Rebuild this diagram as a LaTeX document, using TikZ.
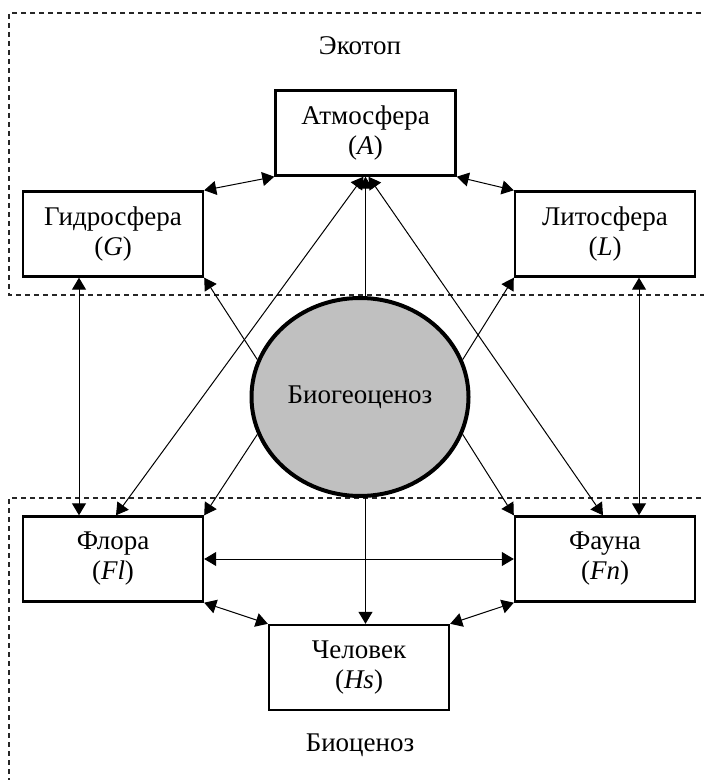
\documentclass[tikz,border=0pt]{standalone}
\usepackage{fontspec}
\setmainfont{Liberation Serif}
\usetikzlibrary{arrows.meta, shapes.geometric, calc}
\definecolor{biogray}{RGB}{192, 192, 192}
\tikzset{
  block/.style={
    draw,
    line width=1.2pt,
    minimum width=90pt,
    minimum height=42.5pt,
    inner sep=1pt,
    align=center,
    font=\fontsize{13.5}{15}\selectfont
  },
  zone/.style={
    draw=black!85,
    line width=0.6pt,
    dash pattern=on 2.5pt off 2pt
  },
  every edge/.style={
    draw,
    line width=0.5pt,
    >={Triangle[length=6pt,width=7pt]}
  }
}

\begin{document}
\begin{tikzpicture}[x=0.5pt, y=-0.5pt, font=\fontsize{13.5}{15}\selectfont]
          \useasboundingbox (0,0) rectangle (703,780);
          % zones
          \draw[zone] (710,13) -| (9,295) -- (710,295);
          \draw[zone] (710,498) -| (9,790);
          \node (eco) at (360,46) {Экотоп};
          \node (bioc) at (360,745) {Биоценоз};

          \node[block] (A) at (365.5,133) {Атмосфера\\(\textit{A})};
          \node[block] (G) at (113,234) {Гидросфера\\(\textit{G})};
          \node[block] (L) at (605,234) {Литосфера\\(\textit{L})};
          \node[block] (Fl) at (113,559) {Флора\\(\textit{Fl})};
          \node[block] (Fn) at (605,559) {Фауна\\(\textit{Fn})};
          \node[block] (Hs) at (359,667.5) {Человек\\(\textit{Hs})};
          \node[ellipse, draw, line width=2pt, fill=biogray, inner sep=0pt,
                minimum width=108.5pt, minimum height=99pt] (B) at (360,397) {Биогеоценоз};

          \path (G.north east) edge[<->] (A.south west)
                (A.south east) edge[<->] (L.north west)
                (Fl.south east) edge[<->] (Hs.north west)
                (Hs.north east) edge[<->] (Fn.south west)
                ([xshift=-17pt]G.south) edge[<->] ([xshift=-17pt]Fl.north)
                ([xshift=17pt]L.south) edge[<->] ([xshift=17pt]Fn.north)
                (Fl.east) edge[<->] (Fn.west)
                ([xshift=1.5pt]Fl.north) edge[<->] ([xshift=-1pt]A.south)
                ([xshift=-1pt]Fn.north) edge[<->] ([xshift=1.5pt]A.south)
                (B.160) edge[->] (G.south east)
                (B.20) edge[->] (L.south west)
                (B.200) edge[->] (Fl.north east)
                (B.340) edge[->] (Fn.north west)
                (A.south |- B.north) edge[->] (A.south)
                (A.south |- B.south) edge[->] (A.south |- Hs.north);
        \end{tikzpicture}
\end{document}
